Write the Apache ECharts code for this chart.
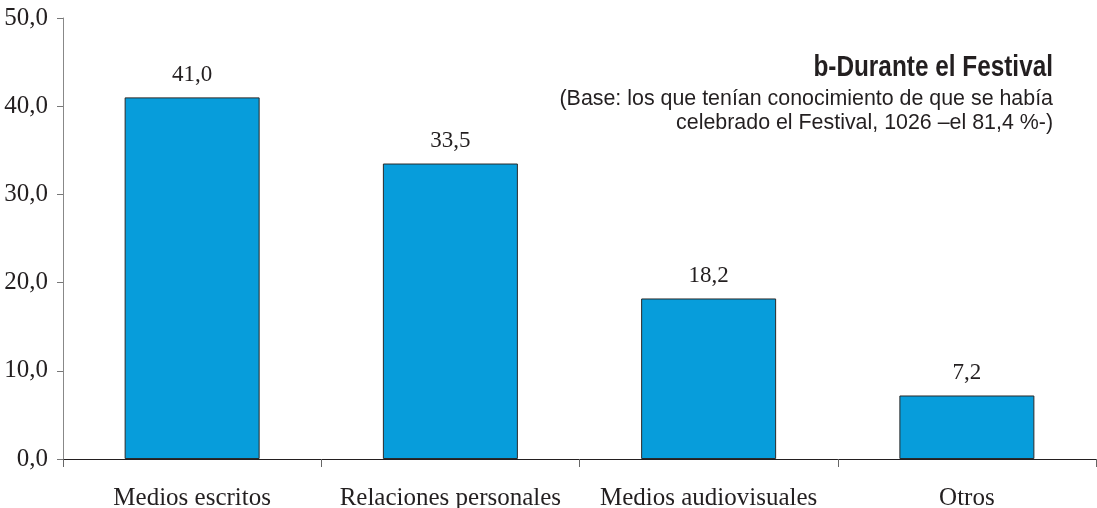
<!DOCTYPE html>
<html><head><meta charset="utf-8">
<script src="https://cdn.jsdelivr.net/npm/echarts@6/dist/echarts.min.js"></script>
<style>html,body{margin:0;padding:0;background:#fff}#c{width:1097px;height:508px}</style>
</head><body><div id="c"></div>
<script>
const categories = ['Medios escritos', 'Relaciones personales', 'Medios audiovisuales', 'Otros'];
const values = [41.0, 33.5, 18.2, 7.2];
const titleText = 'b-Durante el Festival';
const subtitleLines = ['(Base: los que tenían conocimiento de que se había', 'celebrado el Festival, 1026 –el 81,4 %-)'];

const fmt = v => v.toFixed(1).replace('.', ',');
const serif = "'Liberation Serif','Times New Roman',serif";
const chart = echarts.init(document.getElementById('c'));
chart.setOption({
  animation: false,
  graphic: [
    { type: 'text', x: 1053, y: 68, scaleX: 0.84, originX: 0, originY: 0,
      style: { text: titleText, textAlign: 'right', textVerticalAlign: 'middle', font: "bold 29px 'Liberation Sans',Arial,sans-serif", fill: '#231f20' } },
    { type: 'text', x: 1053, y: 99,
      style: { text: subtitleLines[0], textAlign: 'right', textVerticalAlign: 'middle', font: "21.4px 'Liberation Sans',Arial,sans-serif", fill: '#231f20' } },
    { type: 'text', x: 1053, y: 123,
      style: { text: subtitleLines[1], textAlign: 'right', textVerticalAlign: 'middle', font: "21.4px 'Liberation Sans',Arial,sans-serif", fill: '#231f20' } }
  ],
  grid: { left: 63, right: 1, top: 18, bottom: 49, containLabel: false, outerBoundsMode: 'none' },
  xAxis: {
    type: 'category', data: categories,
    axisLine: { lineStyle: { color: '#231f20', width: 1 } },
    axisTick: { show: true, length: 8, lineStyle: { color: '#666' } },
    axisLabel: { interval: 0, hideOverlap: false, fontFamily: serif, fontSize: 25, color: '#231f20', margin: 27 }
  },
  yAxis: {
    type: 'value', min: 0, max: 50, interval: 10,
    splitLine: { show: false },
    axisLine: { show: true, lineStyle: { color: '#888', width: 1 } },
    axisTick: { show: true, length: 6, lineStyle: { color: '#777' } },
    axisLabel: { formatter: fmt, fontFamily: serif, fontSize: 25, color: '#231f20', margin: 15 }
  },
  series: [{
    type: 'bar', data: values, barWidth: 135,
    itemStyle: { color: '#079ddb', borderColor: '#2a2a2a', borderWidth: 1 },
    label: { show: true, position: 'top', distance: 11, formatter: p => fmt(p.value), fontFamily: serif, fontSize: 23, color: '#231f20' }
  }]
});
</script></body></html>
